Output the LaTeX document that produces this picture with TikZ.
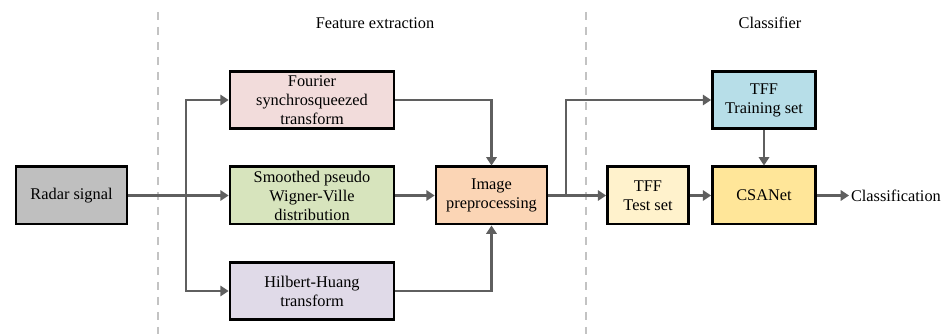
\documentclass[tikz,border=0pt]{standalone}
\usepackage{fontspec}
\setmainfont{Liberation Serif}
\usetikzlibrary{arrows.meta}

\definecolor{linegray}{HTML}{5F5F5F}
\definecolor{dashgray}{HTML}{C3C3C3}
\definecolor{radarfill}{HTML}{BFBFBF}
\definecolor{fstfill}{HTML}{F2DCDB}
\definecolor{spwvdfill}{HTML}{D7E4BD}
\definecolor{hhtfill}{HTML}{E0DAE8}
\definecolor{prefill}{HTML}{FBD5B5}
\definecolor{trainfill}{HTML}{B7DEE8}
\definecolor{testfill}{HTML}{FFF2CC}
\definecolor{netfill}{HTML}{FFE699}

\begin{document}
\begin{tikzpicture}[x=0.6pt, y=-0.6pt,
		font=\fontsize{9.8}{11.4}\selectfont,
		box/.style={draw, line width=1.6pt, align=center, inner sep=0pt, minimum height=34.4pt},
		arr/.style={draw=linegray, line width=1.4pt, -{Triangle[length=5pt, width=6.2pt]}},
		divider/.style={draw=dashgray, line width=1.2pt, dash pattern=on 5pt off 4pt}]
		\useasboundingbox (0,0) rectangle (946,334);
		% dividers and titles
		\draw[divider] (158,12) -- (158,334);
		\draw[divider] (586,12) -- (586,334);
		\node (titlefe) at (375,23) {Feature extraction};
		\node (titlecl) at (770,23) {Classifier};
		
		\node[box, fill=radarfill, minimum width=66.6pt] (radar) at (71.5,195.5) {Radar signal};
		\node[box, fill=fstfill, minimum width=98.4pt] (fst) at (312,100) {Fourier\\synchrosqueezed\\transform};
		\node[box, fill=spwvdfill, minimum width=98.4pt] (spwvd) at (312,195.5) {Smoothed pseudo\\Wigner-Ville\\distribution};
		\node[box, fill=hhtfill, minimum width=98.4pt] (hht) at (312,291) {Hilbert-Huang\\transform};
		\node[box, fill=prefill, minimum width=66.6pt] (pre) at (491.5,195.5) {Image\\preprocessing};
		\node[box, fill=trainfill, minimum width=61.8pt] (train) at (764,100) {TFF\\Training set};
		\node[box, fill=testfill, minimum width=48.6pt] (test) at (648,195.5) {TFF\\Test set};
		\node[box, fill=netfill, minimum width=61.8pt] (net) at (764,195.5) {CSANet};
		\node[anchor=west, inner sep=1pt] (cls) at (849,195.5) {Classification};
		
		\coordinate (branch) at (186,195.5);
		\coordinate (split) at (566,195.5);
		
		\draw[arr] (radar.east) -- (spwvd.west);
		\draw[arr] (branch) |- (fst.west);
		\draw[arr] (branch) |- (hht.west);
		\draw[arr] (fst.east) -| (pre.north);
		\draw[arr] (spwvd.east) -- (pre.west);
		\draw[arr] (hht.east) -| (pre.south);
		\draw[arr] (pre.east) -- (test.west);
		\draw[arr] (split) |- (train.west);
		\draw[arr] (test.east) -- (net.west);
		\draw[arr] (train.south) -- (net.north);
		\draw[arr] (net.east) -- (cls.west);
		
	\end{tikzpicture}
\end{document}
